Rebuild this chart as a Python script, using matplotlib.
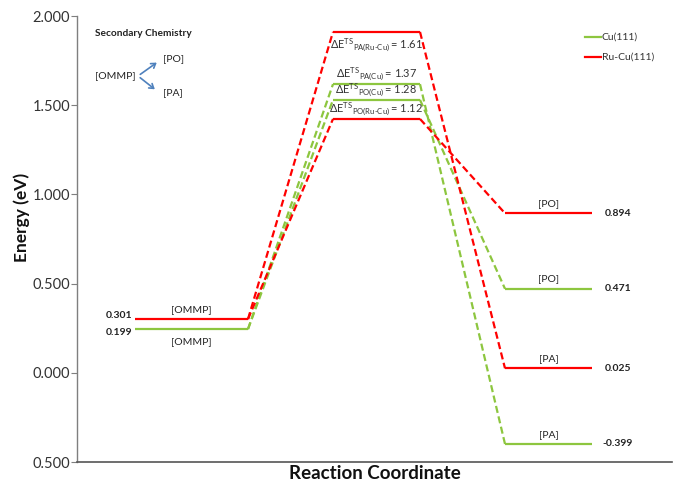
import matplotlib
matplotlib.use("Agg")
import matplotlib.pyplot as plt
from matplotlib.patches import FancyArrowPatch

plt.rcParams['font.family'] = ['Lato', 'DejaVu Sans']
plt.rcParams['mathtext.fontset'] = 'custom'
plt.rcParams['mathtext.rm'] = 'Lato'
plt.rcParams['mathtext.it'] = 'Lato:italic'
plt.rcParams['mathtext.bf'] = 'Lato:bold'

# ---- data (as drawn in the picture) ----
series = ["Cu(111)", "Ru-Cu(111)"]
colors = {"Cu(111)": "#8dc63f", "Ru-Cu(111)": "#ff0000"}

ommp_level = {"Cu(111)": 0.245, "Ru-Cu(111)": 0.301}
ommp_label = {"Cu(111)": "0.199", "Ru-Cu(111)": "0.301"}

ts_PA = {"Cu(111)": 1.618, "Ru-Cu(111)": 1.911}
ts_PO = {"Cu(111)": 1.530, "Ru-Cu(111)": 1.423}
barrier_PA = {"Cu(111)": "1.37", "Ru-Cu(111)": "1.61"}
barrier_PO = {"Cu(111)": "1.28", "Ru-Cu(111)": "1.12"}
sub_PA = {"Cu(111)": "PA(Cu)", "Ru-Cu(111)": "PA(Ru-Cu)"}
sub_PO = {"Cu(111)": "PO(Cu)", "Ru-Cu(111)": "PO(Ru-Cu)"}

prod_PO = {"Cu(111)": 0.471, "Ru-Cu(111)": 0.894}
prod_PA = {"Cu(111)": -0.399, "Ru-Cu(111)": 0.025}

ytick_vals = [2.0, 1.5, 1.0, 0.5, 0.0, -0.5]
ytick_labels = ["2.000", "1.500", "1.000", "0.500", "0.000", "0.500"]

# ---- layout ----
W, H = 674, 483
fig = plt.figure(figsize=(W / 100, H / 100), dpi=100)
ax = fig.add_axes([77 / W, 21 / H, 595 / W, 446 / H])
ax.set_xlim(0, 595)
ax.set_ylim(-0.5, 2.0)

x_ommp = (58, 171)
x_ts = (256, 343)
x_prod = (428, 515)

lw = 1.6
dash = (0, (3.2, 1.6))

for s in series:
    c = colors[s]
    ax.plot(x_ommp, [ommp_level[s]] * 2, color=c, lw=lw, solid_capstyle='butt')
    for ts, prod in ((ts_PA, prod_PA), (ts_PO, prod_PO)):
        ax.plot(x_ts, [ts[s]] * 2, color=c, lw=lw, solid_capstyle='butt')
        ax.plot([x_ommp[1], x_ts[0]], [ommp_level[s], ts[s]], color=c, lw=lw, ls=dash)
        ax.plot([x_ts[1], x_prod[0]], [ts[s], prod[s]], color=c, lw=lw, ls=dash)
        ax.plot(x_prod, [prod[s]] * 2, color=c, lw=lw, solid_capstyle='butt')

# ---- level annotations ----
tk = dict(fontsize=7.5, color="#222222")
cx_o = (x_ommp[0] + x_ommp[1]) / 2
ax.text(cx_o, ommp_level["Ru-Cu(111)"] + 0.03, "[OMMP]", ha='center', va='bottom', **tk)
ax.text(cx_o, ommp_level["Cu(111)"] - 0.045, "[OMMP]", ha='center', va='top', **tk)
for s in series:
    ax.text(42, ommp_level[s] + (0.03 if s == "Ru-Cu(111)" else -0.03) * 0.6,
            ommp_label[s], ha='center', va='center', fontsize=7.5,
            fontweight='bold', color="#222222")

cx_p = (x_prod[0] + x_prod[1]) / 2
for s in series:
    ax.text(cx_p, prod_PO[s] + 0.03, "[PO]", ha='center', va='bottom', **tk)
    ax.text(cx_p, prod_PA[s] + 0.03, "[PA]", ha='center', va='bottom', **tk)
    ax.text(541, prod_PO[s], f"{prod_PO[s]:.3f}", ha='center', va='center',
            fontsize=7.5, fontweight='bold', color="#222222")
    ax.text(541, prod_PA[s], f"{prod_PA[s]:.3f}", ha='center', va='center',
            fontsize=7.5, fontweight='bold', color="#222222")


def ts_text(sub, val):
    sub = sub.replace("-", "\u2010")
    return r"$\mathrm{\Delta E}^{\mathrm{TS}}{}_{\mathrm{" + sub + r"}}\mathrm{=\,} \mathrm{" + val + "}$"


cx_t = (x_ts[0] + x_ts[1]) / 2
ta = dict(ha='center', fontsize=7.9, color="#333333")
ax.text(cx_t, ts_PA["Ru-Cu(111)"] - 0.025,
        ts_text(sub_PA["Ru-Cu(111)"], barrier_PA["Ru-Cu(111)"]), va='top', **ta)
ax.text(cx_t, ts_PA["Cu(111)"] + 0.005,
        ts_text(sub_PA["Cu(111)"], barrier_PA["Cu(111)"]), va='bottom', **ta)
ax.text(cx_t, ts_PO["Cu(111)"] + 0.005,
        ts_text(sub_PO["Cu(111)"], barrier_PO["Cu(111)"]), va='bottom', **ta)
ax.text(cx_t, ts_PO["Ru-Cu(111)"] + 0.008,
        ts_text(sub_PO["Ru-Cu(111)"], barrier_PO["Ru-Cu(111)"]), va='bottom', **ta)

# ---- legend (figure coords) ----
for i, s in enumerate(series):
    yy = 1 - (37 + 20 * i) / H
    fig.add_artist(plt.Line2D([585 / W, 601 / W], [yy, yy], color=colors[s], lw=1.6))
    fig.text(602 / W, yy, s, ha='left', va='center', fontsize=7.5, color="#333333")

# ---- secondary chemistry inset ----
fig.text(95 / W, 1 - 33 / H, "Secondary Chemistry", ha='left', va='center',
         fontsize=7.3, fontweight='bold', color="#222222")
fig.text(95 / W, 1 - 76 / H, "[OMMP]", ha='left', va='center', fontsize=7.5, color="#222222")
fig.text(163 / W, 1 - 59 / H, "[PO]", ha='left', va='center', fontsize=7.5, color="#222222")
fig.text(163 / W, 1 - 93 / H, "[PA]", ha='left', va='center', fontsize=7.5, color="#222222")
for (x2, y2) in ((159, 61), (157, 91)):
    arr = FancyArrowPatch((138 / W, 1 - 76 / H), (x2 / W, 1 - y2 / H),
                          transform=fig.transFigure, arrowstyle='->,head_length=3,head_width=2',
                          color="#4f81bd", lw=1.2)
    fig.add_artist(arr)

# ---- axes styling ----
ax.set_yticks(ytick_vals)
ax.set_yticklabels(ytick_labels)
ax.set_xticks([])
for sp in ("top", "right"):
    ax.spines[sp].set_visible(False)
ax.spines["left"].set_color("#7f7f7f")
ax.spines["bottom"].set_color("#555555")
ax.spines["left"].set_linewidth(1.0)
ax.spines["bottom"].set_linewidth(1.2)
ax.tick_params(axis='y', direction='out', length=4, color="#7f7f7f",
               labelsize=10.5, labelcolor="#333333", pad=1)
ax.set_ylabel("Energy (eV)", fontsize=12.5, fontweight='bold', color="#111111")
ax.yaxis.set_label_coords(-47 / 595, (462 - 217) / 446)
ax.set_xlabel("Reaction Coordinate", fontsize=13.5, fontweight='bold', color="#111111", labelpad=2)

fig.savefig("out.png", dpi=100)
